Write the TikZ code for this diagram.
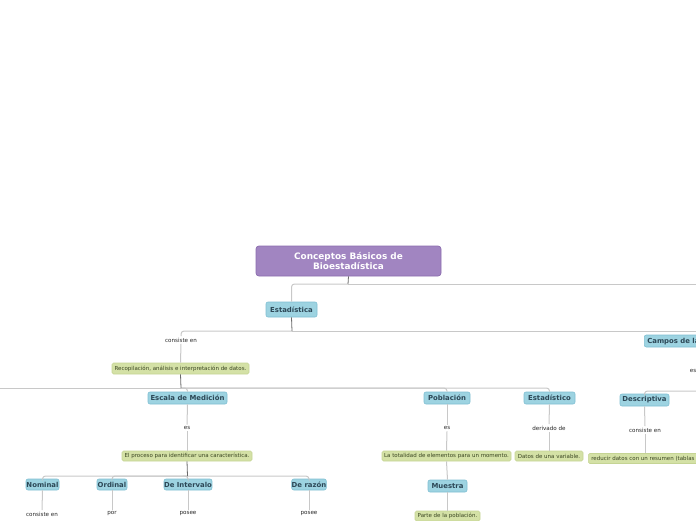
\documentclass[tikz,border=0pt]{standalone}
\usepackage{fontspec}
\setmainfont{DejaVu Sans}
\definecolor{purF}{HTML}{A185C1}
\definecolor{purD}{HTML}{8C6DAF}
\definecolor{bluF}{HTML}{9DD3E1}
\definecolor{bluD}{HTML}{7FBFD2}
\definecolor{bluT}{HTML}{2C4756}
\definecolor{grnF}{HTML}{D4E1A6}
\definecolor{grnD}{HTML}{C5D494}
\definecolor{grnT}{HTML}{3A4522}
\definecolor{lnL}{HTML}{C8C8C8}
\definecolor{lnD}{HTML}{6A6A6A}
\tikzset{
  rootbox/.style={fill=purF,draw=purD,line width=0.7pt,rounded corners=3pt,text=white,
    font=\bfseries\fontsize{8.9}{10.2}\selectfont,align=center,inner sep=0pt},
  topicbox/.style={fill=bluF,draw=bluD,line width=0.6pt,rounded corners=2pt,text=bluT,
    font=\bfseries\fontsize{6.9}{7.8}\selectfont,inner sep=0pt},
  notebox/.style={fill=grnF,draw=grnD,line width=0.6pt,rounded corners=1.5pt,text=grnT,
    font=\fontsize{5.5}{6.3}\selectfont,inner sep=0pt},
  lab/.style={font=\fontsize{5.6}{6.5}\selectfont,text=black!85,inner sep=1.5pt},
  ln/.style={draw=lnL,line width=1pt,rounded corners=3pt},
  dk/.style={draw=lnD,line width=0.8pt},
}
\begin{document}
\begin{tikzpicture}[x=1pt,y=-1pt]
\useasboundingbox (0,0) rectangle (696,520);
\clip (0,0) rectangle (696,520);

% nodes
\node[rootbox,minimum width=185pt,minimum height=30pt] (root) at (348.5,261) {Conceptos Básicos de\\Bioestadística};
\node[topicbox,minimum width=51pt,minimum height=15pt] (est) at (291.5,309.5) {Estadística};
\node[lab] (cons1) at (181,340) {consiste en};
\node[notebox,minimum width=137pt,minimum height=11pt] (recop) at (180.5,368.5) {Recopilación, análisis e interpretación de datos.};
\node[topicbox,minimum width=79pt,minimum height=12pt] (escala) at (187.5,398) {Escala de Medición};
\node[lab] (es1) at (187,428) {es};
\node[notebox,minimum width=130pt,minimum height=10pt] (proceso) at (187,456) {El proceso para identificar una característica.};
\node[topicbox,minimum width=33pt,minimum height=11pt] (nominal) at (42.5,484.5) {Nominal};
\node[topicbox,minimum width=30pt,minimum height=11pt] (ordinal) at (112,484.5) {Ordinal};
\node[topicbox,minimum width=46pt,minimum height=11pt] (interv) at (188,484.5) {De Intervalo};
\node[topicbox,minimum width=34pt,minimum height=11pt] (razon) at (309,484.5) {De razón};
\node[lab] (l1) at (42,514) {consiste en};
\node[lab] (l2) at (112,514) {por};
\node[lab] (l3) at (188,514) {posee};
\node[lab] (l4) at (309,514) {posee};
\node[topicbox,minimum width=46pt,minimum height=12pt] (pobl) at (447,398) {Población};
\node[lab] (es2) at (447,428) {es};
\node[notebox,minimum width=129pt,minimum height=10pt] (total) at (446.5,456) {La totalidad de elementos para un momento.};
\node[topicbox,minimum width=39pt,minimum height=12pt] (muestra) at (447.5,486) {Muestra};
\node[notebox,minimum width=65pt,minimum height=10pt] (parte) at (447.5,516) {Parte de la población.};
\node[topicbox,minimum width=51pt,minimum height=12pt] (estico) at (549.5,398) {Estadístico};
\node[lab] (deriv) at (549,428) {derivado de};
\node[notebox,minimum width=68pt,minimum height=10pt] (datos) at (549,456) {Datos de una variable.};
\node[topicbox,anchor=west,minimum height=12pt,inner xsep=3pt] (campos) at (644,341) {Campos de la Bioestadística};
\node[lab] (es3) at (693,371) {es};
\node[topicbox,minimum width=49pt,minimum height=12pt] (desc) at (644.5,400) {Descriptiva};
\node[lab] (cons3) at (645,430) {consiste en};
\node[notebox,anchor=west,minimum height=10pt,inner xsep=3pt] (reduc) at (588,458.5) {reducir datos con un resumen (tablas y gráficos).};

% junction / free-end coordinates
\coordinate (j1) at (348,284);
\coordinate (offR1) at (730,284);
\coordinate (j2) at (292,331);
\coordinate (offR2) at (730,331);
\coordinate (j3) at (181,388);
\coordinate (offL) at (-30,388);
\coordinate (j4) at (187.5,476);
\coordinate (offR3) at (702,391);

% connectors
\draw[ln] (j1) -| (est.north);
\draw[ln] (j1) -- (offR1);
\draw[dk] (root.south) -- (j1);

\draw[ln] (j2) -| (cons1.north);
\draw[ln] (j2) -- (offR2);
\draw[dk] (est.south) -- (j2);
\draw[ln] (cons1.south) -- (recop.north);

\draw[ln] (j3) -- (offL);
\draw[ln] (j3) -| (escala.north);
\draw[ln] (j3) -| (pobl.north);
\draw[ln] (j3) -| (estico.north);
\draw[dk] (recop.south) -- (j3);

\draw[ln] (escala.south) -- (es1.north);
\draw[ln] (es1.south) -- (proceso.north);

\draw[ln] (j4) -| (nominal.north);
\draw[ln] (j4) -| (ordinal.north);
\draw[ln] (j4) -| (interv.north);
\draw[ln] (j4) -| (razon.north);
\draw[dk] (proceso.south) -- (j4);

\draw[ln] (nominal.south) -- (l1.north);
\draw[ln] (ordinal.south) -- (l2.north);
\draw[ln] (interv.south) -- (l3.north);
\draw[ln] (razon.south) -- (l4.north);

\draw[ln] (pobl.south) -- (es2.north);
\draw[ln] (es2.south) -- (total.north);
\draw[ln] (total.south) -- (muestra.north);
\draw[ln] (muestra.south) -- (parte.north);

\draw[ln] (estico.south) -- (deriv.north);
\draw[ln] (deriv.south) -- (datos.north);

\draw[ln] (offR3) -| (desc.north);
\draw[ln] (desc.south) -- (cons3.north);
\draw[ln] (cons3.south) -- (reduc.north -| cons3.south);
\end{tikzpicture}
\end{document}
